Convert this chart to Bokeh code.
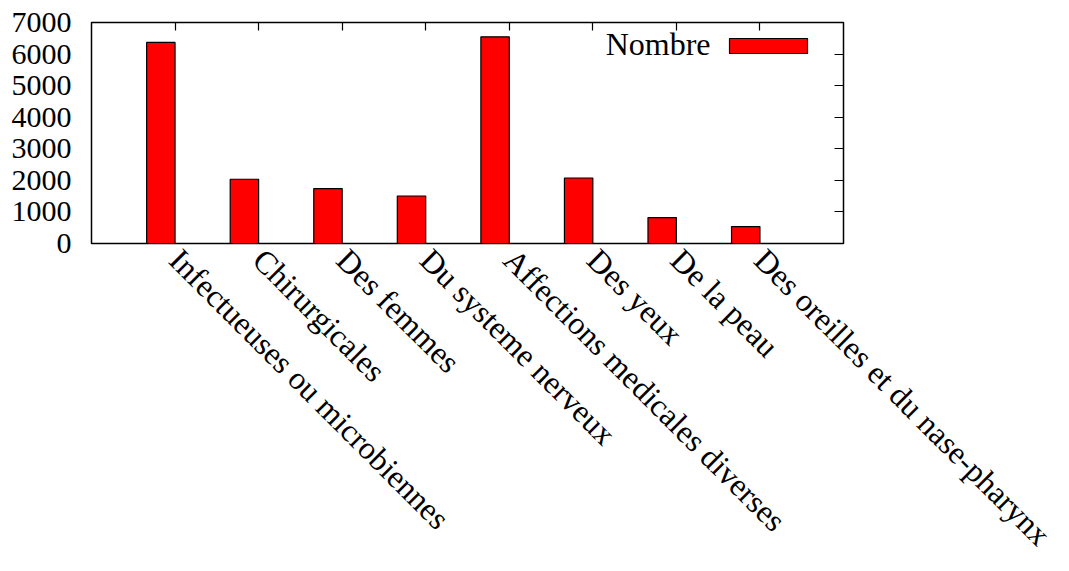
import math
from bokeh.plotting import figure
from bokeh.models import (FactorRange, Range1d, LinearAxis, CategoricalAxis,
                          SingleIntervalTicker, Label, BoxAnnotation, ColumnDataSource)
from bokeh.transform import dodge
from bokeh.embed import file_html
from bokeh.resources import INLINE

categories = ["Infectueuses ou microbiennes", "Chirurgicales", "Des femmes",
              "Du systeme nerveux", "Affections medicales diverses", "Des yeux",
              "De la peau", "Des oreilles et du nase-pharynx"]
nombre = [6370, 2035, 1740, 1505, 6545, 2075, 820, 535]
y_ticks_interval = 1000
y_max = 7000

FONT = "Liberation Serif"

src = ColumnDataSource(dict(cat=categories, val=nombre))

p = figure(x_range=FactorRange(factors=categories, range_padding=0.125),
           y_range=Range1d(0, y_max),
           width=1061, height=570, output_backend="svg", toolbar_location=None,
           min_border_left=91, min_border_right=218, min_border_top=22,
           min_border_bottom=327)

p.vbar(x=dodge("cat", -0.17, range=p.x_range), top="val", width=0.34, source=src,
       fill_color="#ff0000", line_color="black", line_width=1.2)

p.xgrid.visible = False
p.ygrid.visible = False
p.outline_line_color = "black"
p.outline_line_width = 1.5
p.background_fill_color = "white"
p.border_fill_color = "white"

# left axis
ya = p.yaxis[0]
ya.ticker = SingleIntervalTicker(interval=y_ticks_interval)
ya.axis_line_color = None
ya.major_tick_out = 0
ya.major_tick_in = 0
ya.minor_tick_out = 0
ya.minor_tick_in = 0
ya.major_label_standoff = 20
ya.major_label_text_font = FONT
ya.major_label_text_font_size = "30px"
ya.major_label_text_color = "black"

# bottom axis
xa = p.xaxis[0]
xa.axis_line_color = None
xa.major_tick_out = 0
xa.major_tick_in = 0
xa.major_label_orientation = -math.pi / 4
xa.major_label_standoff = 11
xa.major_label_text_font = FONT
xa.major_label_text_font_size = "32px"
xa.major_label_text_color = "black"

# right mirror ticks
ra = LinearAxis(ticker=SingleIntervalTicker(interval=y_ticks_interval))
ra.axis_line_color = None
ra.major_tick_in = 9
ra.major_tick_out = 0
ra.minor_tick_in = 0
ra.minor_tick_out = 0
ra.major_tick_line_color = "black"
ra.major_tick_line_width = 1.2
ra.major_label_text_color = None
ra.major_label_text_font_size = "0px"
p.add_layout(ra, "right")

# top mirror ticks
ta = CategoricalAxis()
ta.axis_line_color = None
ta.major_tick_in = 8
ta.major_tick_out = 0
ta.major_tick_line_color = "black"
ta.major_tick_line_width = 1.2
ta.major_label_text_color = None
ta.major_label_text_font_size = "0px"
p.add_layout(ta, "above")

# legend (text left, swatch right)
p.add_layout(Label(x=619, y=200, x_units="screen", y_units="screen", text="Nombre",
                   text_align="right", text_baseline="middle", text_font=FONT,
                   text_font_size="32px", text_color="black"))
p.add_layout(BoxAnnotation(left=638, right=716, bottom=190, top=205,
                           left_units="screen", right_units="screen",
                           bottom_units="screen", top_units="screen",
                           fill_color="#ff0000", fill_alpha=1.0,
                           line_color="black", line_width=1.2, line_alpha=1.0))

open("out.html", "w").write(file_html(p, INLINE))
